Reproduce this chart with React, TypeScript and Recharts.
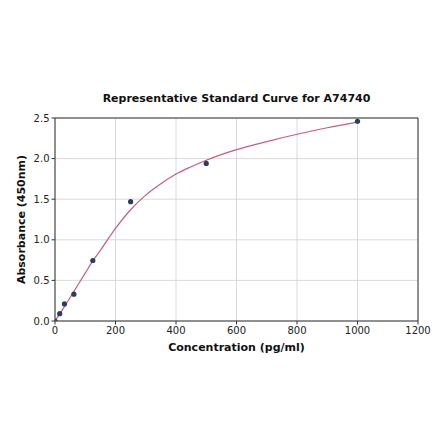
import React from "react"
import {
  ComposedChart,
  Line,
  Scatter,
  XAxis,
  YAxis,
  CartesianGrid,
  ReferenceLine,
} from "recharts"

// standards
const concentrations = [0, 15.6, 31.25, 62.5, 125, 250, 500, 1000]
const absorbances = [0, 0.09, 0.21, 0.33, 0.745, 1.47, 1.94, 2.46]

// fitted curve
const curveX = [0, 25, 50, 75, 100, 125, 150, 200, 250, 300, 350, 400, 450, 500, 600, 700, 800, 900, 1000]
const curveY = [0, 0.14, 0.29, 0.44, 0.59, 0.74, 0.87, 1.14, 1.37, 1.55, 1.69, 1.81, 1.9, 1.98, 2.11, 2.21, 2.3, 2.38, 2.45]

const xTicks = [0, 200, 400, 600, 800, 1000, 1200]
const yTicks = [0, 0.5, 1, 1.5, 2, 2.5]

const points = concentrations.map((c, i) => ({ x: c, y: absorbances[i] }))
const curve = curveX.map((c, i) => ({ x: c, y: curveY[i] }))

const font = "'DejaVu Sans', sans-serif"
const axisColor = "#333"
const tickStyle = { fill: "#222", fontSize: 10, fontFamily: font }

export default function App() {
  return (
    <div style={{ position: "absolute", left: 0, top: 0, width: 440, height: 441, background: "#fff" }}>
      <div
        style={{
          position: "absolute",
          left: 55,
          width: 363,
          top: 92,
          textAlign: "center",
          fontFamily: font,
          fontWeight: "bold",
          fontSize: 11,
          color: "#111",
        }}
      >
        Representative Standard Curve for A74740
      </div>
      <ComposedChart
        width={440}
        height={441}
        margin={{ top: 118, right: 22, bottom: 80, left: 0 }}
      >
        <CartesianGrid
          xAxisId="bottom"
          yAxisId="left"
          stroke="#d0d0d0"
          strokeWidth={0.8}
          verticalValues={xTicks}
          horizontalValues={yTicks}
        />
        <XAxis
          xAxisId="bottom"
          dataKey="x"
          type="number"
          domain={[0, 1200]}
          ticks={xTicks}
          tick={tickStyle}
          tickSize={3.5}
          tickLine={{ stroke: axisColor }}
          axisLine={{ stroke: axisColor }}
          height={40}
          allowDataOverflow
          label={{
            value: "Concentration (pg/ml)",
            position: "insideBottom",
            offset: 10,
            style: { fontFamily: font, fontWeight: "bold", fontSize: 11, fill: "#111" },
          }}
        />
        <YAxis
          yAxisId="left"
          dataKey="y"
          type="number"
          domain={[0, 2.5]}
          ticks={yTicks}
          tickFormatter={(v: number) => v.toFixed(1)}
          tick={tickStyle}
          tickSize={3.5}
          tickLine={{ stroke: axisColor }}
          axisLine={{ stroke: axisColor }}
          width={55}
          allowDataOverflow
          label={{
            value: "Absorbance (450nm)",
            angle: -90,
            position: "insideLeft",
            offset: 21,
            style: { textAnchor: "middle", fontFamily: font, fontWeight: "bold", fontSize: 11, fill: "#111" },
          }}
        />
        <ReferenceLine xAxisId="bottom" yAxisId="left" y={2.5} stroke={axisColor} ifOverflow="visible" />
        <ReferenceLine xAxisId="bottom" yAxisId="left" x={1200} stroke={axisColor} ifOverflow="visible" />
        <Line
          xAxisId="bottom"
          yAxisId="left"
          data={curve}
          dataKey="y"
          type="monotone"
          stroke="#c06080"
          strokeWidth={1.2}
          dot={false}
          isAnimationActive={false}
        />
        <Scatter
          xAxisId="bottom"
          yAxisId="left"
          data={points}
          dataKey="y"
          fill="#2b3f5c"
          isAnimationActive={false}
          shape={(p: any) => <circle cx={p.cx} cy={p.cy} r={2.6} fill="#2b3f5c" />}
        />
      </ComposedChart>
    </div>
  )
}
